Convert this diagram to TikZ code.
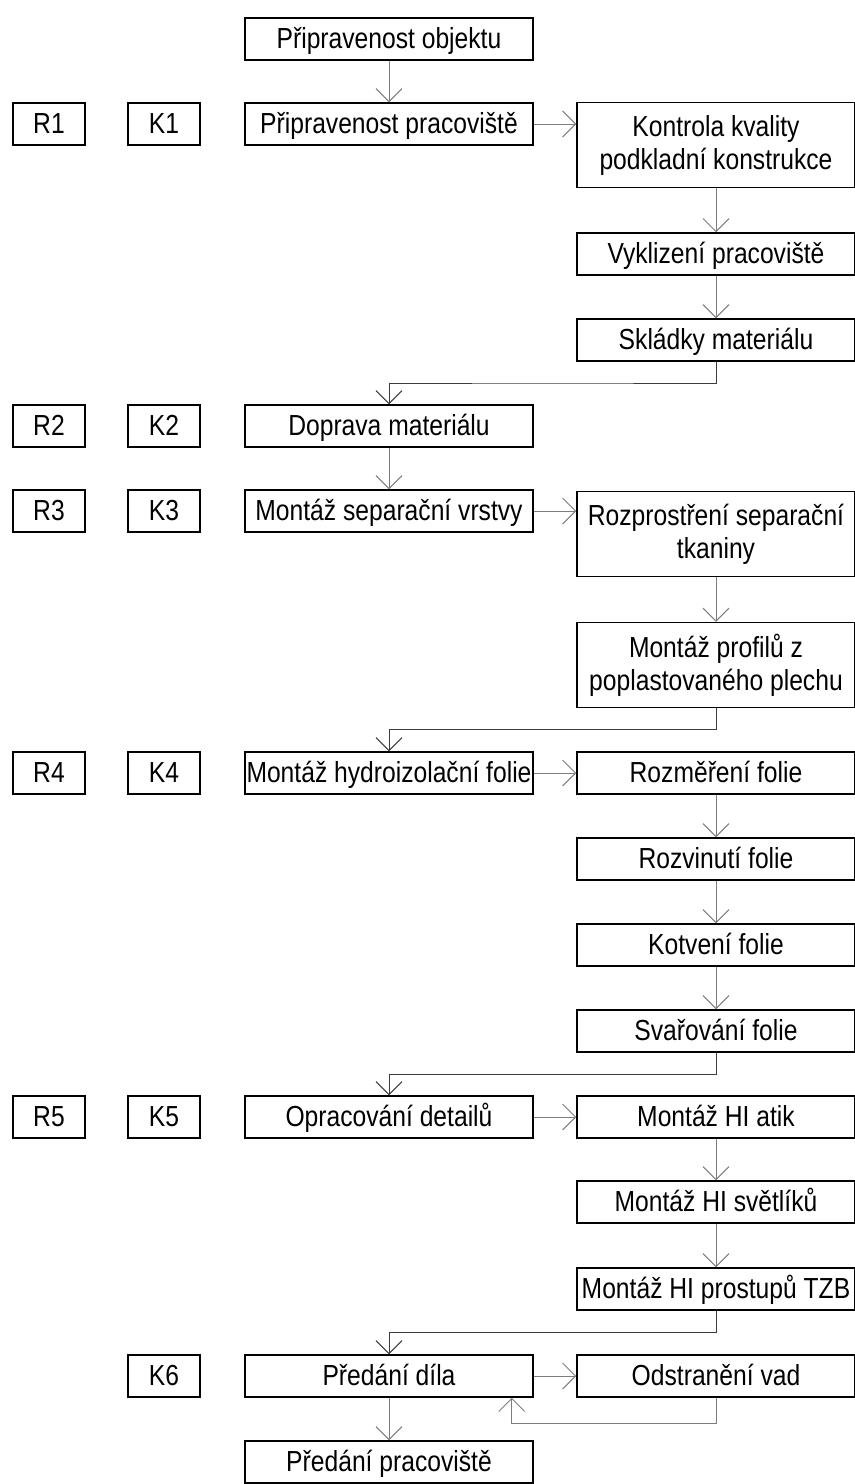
\documentclass[tikz,border=0pt]{standalone}
\usepackage{fontspec}
\setmainfont[FakeStretch=0.85]{Liberation Sans}
\usepackage{tikz}
\usetikzlibrary{arrows.meta,positioning,calc}
\definecolor{linecolor}{RGB}{125,125,125}
\definecolor{elbowcolor}{RGB}{60,60,60}

\begin{document}
\begin{tikzpicture}[x=0.5pt, y=-0.5pt,
    every node/.style={font=\fontsize{14.5}{16.5}\selectfont},
    box/.style={draw, line width=0.75pt, align=center, inner sep=0pt, minimum height=21pt,
      text height=11.5pt, text depth=2.5pt},
    midbox/.style={box, minimum width=144pt},
    sidebox/.style={box, minimum width=139pt},
    tall/.style={minimum height=42.5pt, text height=, text depth=},
    tag/.style={box, minimum width=36pt},
    conn/.style={draw=linecolor, line width=0.5pt, -{Straight Barb[length=6.5pt,width=13pt]}},
    elbow/.style={conn, draw=elbowcolor}]
    \useasboundingbox (0,0) rectangle (855,1484);
    % row labels
    \node[tag] (r1) at (49,124) {R1};
    \node[tag] (k1) at (164,124) {K1};
    \node[tag] (r2) at (49,426) {R2};
    \node[tag] (k2) at (164,426) {K2};
    \node[tag] (r3) at (49,511) {R3};
    \node[tag] (k3) at (164,511) {K3};
    \node[tag] (r4) at (49,773) {R4};
    \node[tag] (k4) at (164,773) {K4};
    \node[tag] (r5) at (49,1117) {R5};
    \node[tag] (k5) at (164,1117) {K5};
    \node[tag] (k6) at (164,1376) {K6};
    % main column
    \node[midbox] (obj) at (389,39) {Připravenost objektu};
    \node[midbox] (prac) at (389,124) {Připravenost pracoviště};
    \node[midbox] (dop) at (389,426) {Doprava materiálu};
    \node[midbox] (sep) at (389,511) {Montáž separační vrstvy};
    \node[midbox] (hi) at (389,773) {Montáž hydroizolační folie};
    \node[midbox] (det) at (389,1117) {Opracování detailů};
    \node[midbox] (dilo) at (389,1376) {Předání díla};
    \node[midbox] (konec) at (389,1462) {Předání pracoviště};
    % side column
    \node[sidebox, tall] (kval) at (716,145) {Kontrola kvality\\podkladní konstrukce};
    \node[sidebox] (vykl) at (716,254) {Vyklizení pracoviště};
    \node[sidebox] (skl) at (716,340) {Skládky materiálu};
    \node[sidebox, tall] (tkan) at (716,534) {Rozprostření separační\\tkaniny};
    \node[sidebox, tall] (prof) at (716,665) {Montáž profilů z\\poplastovaného plechu};
    \node[sidebox] (rozm) at (716,773) {Rozměření folie};
    \node[sidebox] (rozv) at (716,859) {Rozvinutí folie};
    \node[sidebox] (kotv) at (716,945) {Kotvení folie};
    \node[sidebox] (svar) at (716,1031) {Svařování folie};
    \node[sidebox] (atik) at (716,1117) {Montáž HI atik};
    \node[sidebox] (svet) at (716,1202) {Montáž HI světlíků};
    \node[sidebox] (tzb) at (716,1289) {Montáž HI prostupů TZB};
    \node[sidebox] (vady) at (716,1376) {Odstranění vad};
    % connectors
    \draw[conn] (obj) -- (prac);
    \draw[conn] (prac.east) -- (prac.east -| kval.west);
    \draw[conn] (kval) -- (vykl);
    \draw[conn] (vykl) -- (skl);
    \draw[elbow] (skl.south) |- ($(skl.south)!0.5!(dop.north)$) -| (dop.north);
    \draw[conn] (dop) -- (sep);
    \draw[conn] (sep.east) -- (sep.east -| tkan.west);
    \draw[conn] (tkan) -- (prof);
    \draw[elbow] (prof.south) |- ($(prof.south)!0.5!(hi.north)$) -| (hi.north);
    \draw[conn] (hi) -- (rozm);
    \draw[conn] (rozm) -- (rozv);
    \draw[conn] (rozv) -- (kotv);
    \draw[conn] (kotv) -- (svar);
    \draw[elbow] (svar.south) |- ($(svar.south)!0.5!(det.north)$) -| (det.north);
    \draw[conn] (det) -- (atik);
    \draw[conn] (atik) -- (svet);
    \draw[conn] (svet) -- (tzb);
    \draw[elbow] (tzb.south) |- ($(tzb.south)!0.5!(dilo.north)$) -| (dilo.north);
    \draw[conn] (dilo) -- (vady);
    \draw[conn] (dilo) -- (konec);
    % return loop
    \coordinate (back) at ($(dilo.south east)+(-22,0)$);
    \draw[conn] (vady.south) -- ++(0,26) -| (back);
\end{tikzpicture}
\end{document}
